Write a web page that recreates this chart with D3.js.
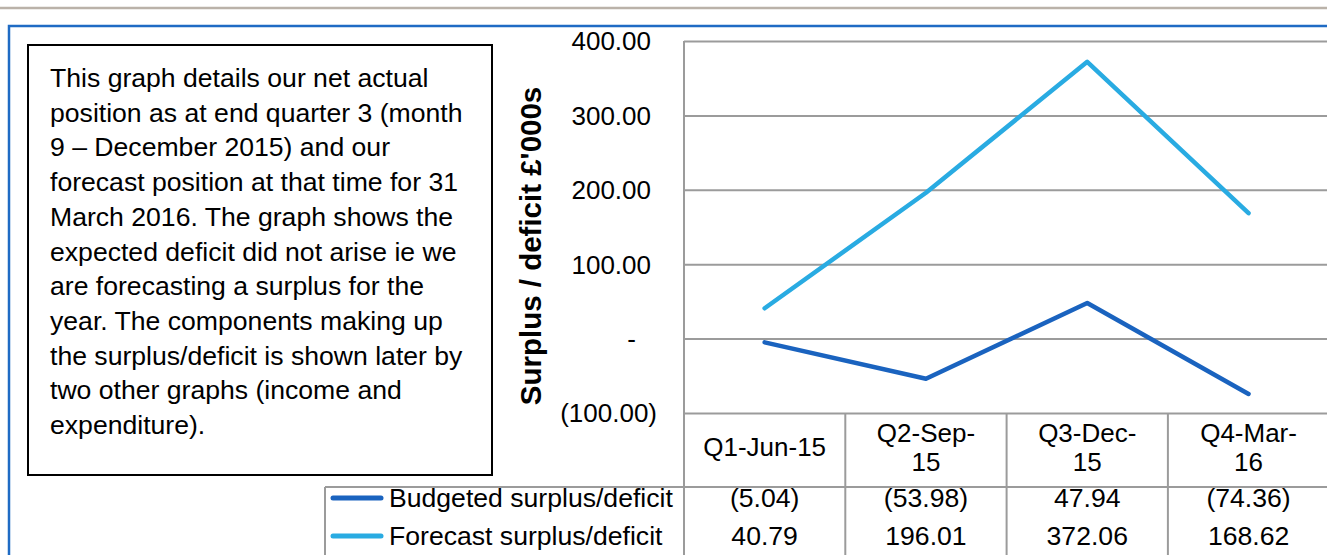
<!DOCTYPE html>
<html>
<head>
<meta charset="utf-8">
<script src="https://cdn.jsdelivr.net/npm/d3@7"></script>
<style>
  html, body { margin: 0; padding: 0; background: #ffffff; overflow: hidden; }
  svg { display: block; font-family: "Liberation Sans", Arial, sans-serif; }
</style>
</head>
<body>
<svg id="chart" width="1327" height="555"></svg>
<script>
// ---------- data ----------
const categories = ["Q1-Jun-15", "Q2-Sep-15", "Q3-Dec-15", "Q4-Mar-16"];
const categoryLines = [["Q1-Jun-15"], ["Q2-Sep-", "15"], ["Q3-Dec-", "15"], ["Q4-Mar-", "16"]];
const seriesNames = ["Budgeted surplus/deficit", "Forecast surplus/deficit"];
const budgeted = [-5.04, -53.98, 47.94, -74.36];
const forecast = [40.79, 196.01, 372.06, 168.62];
const yTicks = [-100, 0, 100, 200, 300, 400];
const yTickLabels = ["(100.00)", "-", "100.00", "200.00", "300.00", "400.00"];
const yTitle = "Surplus / deficit \u00a3'000s";
const noteLines = [
  "This graph details our net actual",
  "position as at end quarter 3 (month",
  "9 \u2013 December 2015) and our",
  "forecast position at that time for 31",
  "March 2016. The graph shows the",
  "expected deficit did not arise ie we",
  "are forecasting a surplus for the",
  "year. The components making up",
  "the surplus/deficit is shown later by",
  "two other graphs (income and",
  "expenditure)."
];

// ---------- styles ----------
const colors = ["#1a63bf", "#29abe2"];
const gridColor = "#9b9b9b";
const fontSize = 26;

const svg = d3.select("#chart");

// page decorations
svg.append("line").attr("x1", 0).attr("x2", 1327).attr("y1", 8).attr("y2", 8)
  .attr("stroke", "#bab2a9").attr("stroke-width", 2.5);
svg.append("path").attr("d", "M9,560 L9,26 L1340,26")
  .attr("fill", "none").attr("stroke", "#1f6bc4").attr("stroke-width", 2.5);

// note box
svg.append("rect").attr("x", 28).attr("y", 45).attr("width", 464).attr("height", 430)
  .attr("fill", "#fff").attr("stroke", "#000").attr("stroke-width", 2);
svg.append("g").selectAll("text").data(noteLines).join("text")
  .attr("x", 50).attr("y", (d, i) => 87 + i * 34.7)
  .attr("font-size", 26.6).attr("fill", "#000").text(d => d);

// scales
const plotLeft = 684, plotRight = 1329.2, plotTop = 41, plotBottom = 413;
const y = d3.scaleLinear().domain([-100, 400]).range([plotBottom, plotTop]);
const x = d3.scaleBand().domain(categories).range([plotLeft, plotRight]).padding(0);
const xc = c => x(c) + x.bandwidth() / 2;

// gridlines
const grid = svg.append("g").attr("transform", `translate(${plotLeft},0)`)
  .call(d3.axisLeft(y).tickValues(yTicks).tickSize(-(plotRight - plotLeft)).tickFormat(""));
grid.select(".domain").remove();
grid.selectAll(".tick line").attr("stroke", gridColor).attr("stroke-width", 2);

// y tick labels
const yAxis = svg.append("g").attr("transform", `translate(${plotLeft},0)`)
  .call(d3.axisLeft(y).tickValues(yTicks).tickSize(0)
    .tickFormat((d, i) => yTickLabels[i]));
yAxis.select(".domain").remove();
yAxis.selectAll(".tick text")
  .attr("font-size", fontSize).attr("font-family", "Liberation Sans, Arial, sans-serif")
  .attr("fill", "#000")
  .attr("x", d => d < 0 ? -27 : (d === 0 ? -48 : -33))
  .attr("dy", "0.34em");

// y title
svg.append("text")
  .attr("transform", `translate(541,246) rotate(-90)`)
  .attr("text-anchor", "middle").attr("font-size", 29.5).attr("font-weight", "bold")
  .attr("fill", "#000").text(yTitle);

// vertical axis line + data table lines
const tableTop = plotBottom, headerBottom = 487, legendLeft = 325;
svg.append("line").attr("x1", plotLeft).attr("x2", plotLeft).attr("y1", plotTop).attr("y2", 560)
  .attr("stroke", gridColor).attr("stroke-width", 2);
svg.append("g").selectAll("line").data(categories.slice(1)).join("line")
  .attr("x1", d => x(d)).attr("x2", d => x(d)).attr("y1", tableTop).attr("y2", 560)
  .attr("stroke", gridColor).attr("stroke-width", 2);
svg.append("line").attr("x1", legendLeft).attr("x2", plotRight).attr("y1", headerBottom).attr("y2", headerBottom)
  .attr("stroke", gridColor).attr("stroke-width", 2);
svg.append("line").attr("x1", legendLeft).attr("x2", legendLeft).attr("y1", headerBottom).attr("y2", 560)
  .attr("stroke", gridColor).attr("stroke-width", 2);

// category labels
const catG = svg.append("g");
categories.forEach((c, i) => {
  const lines = categoryLines[i];
  const lh = 29;
  const mid = 447;
  const start = mid - (lines.length - 1) * lh / 2;
  lines.forEach((l, j) => {
    catG.append("text").attr("x", xc(c)).attr("y", start + j * lh)
      .attr("dy", "0.35em").attr("text-anchor", "middle")
      .attr("font-size", fontSize).attr("fill", "#000").text(l);
  });
});

// data table rows
const fmt = v => v < 0 ? "(" + Math.abs(v).toFixed(2) + ")" : v.toFixed(2);
const rows = [budgeted, forecast];
const rowY = [498, 536];
rows.forEach((vals, r) => {
  svg.append("line").attr("x1", 333).attr("x2", 381).attr("y1", rowY[r]).attr("y2", rowY[r])
    .attr("stroke", colors[r]).attr("stroke-width", 5).attr("stroke-linecap", "round");
  svg.append("text").attr("x", 389).attr("y", rowY[r]).attr("dy", "0.35em")
    .attr("font-size", 26.6).attr("fill", "#000").text(seriesNames[r]);
  svg.append("g").selectAll("text").data(vals).join("text")
    .attr("x", (d, i) => xc(categories[i])).attr("y", rowY[r]).attr("dy", "0.35em")
    .attr("text-anchor", "middle").attr("font-size", 26.6).attr("fill", "#000")
    .text(d => fmt(d));
});

// lines
const line = d3.line().x((d, i) => xc(categories[i])).y(d => y(d));
rows.forEach((vals, r) => {
  svg.append("path").datum(vals).attr("d", line)
    .attr("fill", "none").attr("stroke", colors[r]).attr("stroke-width", 4.5)
    .attr("stroke-linecap", "round").attr("stroke-linejoin", "round");
});
</script>
</body>
</html>
